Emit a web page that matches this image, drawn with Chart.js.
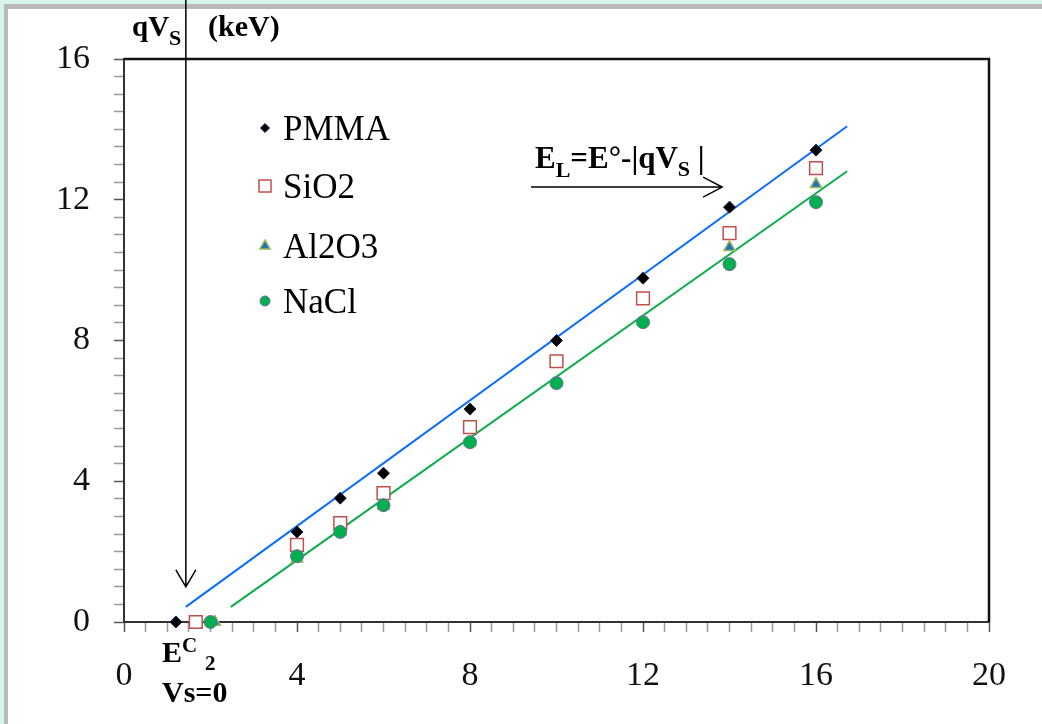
<!DOCTYPE html>
<html>
<head>
<meta charset="utf-8">
<script src="https://cdn.jsdelivr.net/npm/chart.js@4.4.1/dist/chart.umd.min.js"></script>
<style>
    html, body { margin: 0; padding: 0; background: #fff; }
    #marco { width: 1042px; height: 724px; }
</style>
</head>
<body>
<div id="marco"><canvas id="grafica" width="1042" height="724"></canvas></div>
<script>
// Datos (energía en keV)
const nombres = ['PMMA', 'SiO2', 'Al2O3', 'NaCl'];

const xPMMA  = [1.2, 4, 5, 6, 8, 10, 12, 14, 16];
const yPMMA  = [0, 2.56, 3.52, 4.23, 6.05, 8.0, 9.77, 11.79, 13.41];

const xSiO2  = [1.66, 4, 5, 6, 8, 10, 12, 14, 16];
const ySiO2  = [0, 2.19, 2.81, 3.66, 5.54, 7.41, 9.2, 11.05, 12.9];

const xAl2O3 = [2.1, 4, 5, 6, 8, 10, 12, 14, 16];
const yAl2O3 = [0, 1.8, 2.56, 3.3, 5.1, 6.8, 8.55, 10.65, 12.44];

const xNaCl  = [2.0, 4, 5, 6, 8, 10, 12, 14, 16];
const yNaCl  = [0, 1.87, 2.56, 3.32, 5.11, 6.79, 8.52, 10.17, 11.93];

// Rectas de ajuste (extremos)
const xRectaAzul  = [1.43, 16.72];
const yRectaAzul  = [0.43, 14.09];
const xRectaVerde = [2.47, 16.72];
const yRectaVerde = [0.43, 12.81];

// Ejes
const xMin = 0, xMax = 20, yMin = 0, yMax = 16;
const pasoMenor = 0.5, pasoMayor = 4;

// Flechas (en unidades de los ejes)
const flechaVertical = { x: 1.43, yPunta: 1.0 };
const flechaHorizontal = { y: 12.36, xDesde: 9.41, xHasta: 13.83 };

const fuenteSerif = '"Liberation Serif", "Times New Roman", serif';

function puntos(xs, ys) {
    return xs.map((x, i) => ({ x: x, y: ys[i] }));
}

const estilos = [
    { pointStyle: 'rectRot',  radius: 6,   fill: '#000000', borde: '#12224c', ancho: 1 },
    { pointStyle: 'rect',     radius: 9,   fill: '#ffffff', borde: '#c0504d', ancho: 1.5 },
    { pointStyle: 'triangle', radius: 6.5, fill: '#1f6fc0', borde: '#9bbb59', ancho: 1.5 },
    { pointStyle: 'circle',   radius: 6.5, fill: '#00b050', borde: '#7a6aa0', ancho: 1 }
];

const series = [puntos(xPMMA, yPMMA), puntos(xSiO2, ySiO2), puntos(xAl2O3, yAl2O3), puntos(xNaCl, yNaCl)];

const datasets = series.map((d, i) => ({
    label: nombres[i],
    data: d,
    pointStyle: estilos[i].pointStyle,
    pointRadius: estilos[i].radius,
    pointBackgroundColor: estilos[i].fill,
    pointBorderColor: estilos[i].borde,
    pointBorderWidth: estilos[i].ancho,
    showLine: false,
    clip: false,
    order: 4 - i
}));

datasets.push({
    label: 'ajuste1', data: puntos(xRectaAzul, yRectaAzul), showLine: true,
    borderColor: '#0a6cff', borderWidth: 2, pointRadius: 0, clip: false, order: 10
});
datasets.push({
    label: 'ajuste2', data: puntos(xRectaVerde, yRectaVerde), showLine: true,
    borderColor: '#0aad4a', borderWidth: 2, pointRadius: 0, clip: false, order: 10
});

// Texto con subíndices / superíndices
function textoCompuesto(ctx, x, y, partes) {
    let cx = x;
    partes.forEach(p => {
        ctx.font = 'bold ' + p.s + 'px ' + fuenteSerif;
        ctx.fillText(p.t, cx, y + (p.dy || 0));
        cx += ctx.measureText(p.t).width;
    });
}

function marcador(ctx, e, x, y, r) {
    ctx.save();
    ctx.fillStyle = e.fill;
    ctx.strokeStyle = e.borde;
    ctx.lineWidth = e.ancho;
    ctx.beginPath();
    if (e.pointStyle === 'rectRot') {
        ctx.moveTo(x - r, y); ctx.lineTo(x, y - r); ctx.lineTo(x + r, y); ctx.lineTo(x, y + r);
        ctx.closePath();
    } else if (e.pointStyle === 'rect') {
        ctx.rect(x - r, y - r, 2 * r, 2 * r);
    } else if (e.pointStyle === 'triangle') {
        ctx.moveTo(x, y - r); ctx.lineTo(x + r * 0.87, y + r * 0.5); ctx.lineTo(x - r * 0.87, y + r * 0.5);
        ctx.closePath();
    } else {
        ctx.arc(x, y, r, 0, Math.PI * 2);
    }
    ctx.fill();
    ctx.stroke();
    ctx.restore();
}

const decoracion = {
    id: 'decoracion',
    beforeDraw(chart) {
        const ctx = chart.ctx;
        const w = chart.width, h = chart.height;
        ctx.save();
        ctx.fillStyle = '#ffffff';
        ctx.fillRect(0, 0, w, h);
        ctx.fillStyle = '#d6f3ee';
        ctx.fillRect(0, 0, w, 4);
        ctx.fillRect(0, 0, 4, h);
        ctx.fillStyle = '#b9b9b9';
        ctx.fillRect(4, 4, w - 4, 5);
        ctx.fillRect(4, 4, 4, h - 4);
        ctx.restore();
    },
    beforeDatasetsDraw(chart) {
        const ctx = chart.ctx;
        const a = chart.chartArea;
        ctx.save();
        ctx.strokeStyle = '#111';
        ctx.lineWidth = 2.5;
        ctx.beginPath();
        ctx.moveTo(a.left, a.top);
        ctx.lineTo(a.right, a.top);
        ctx.lineTo(a.right, a.bottom);
        ctx.stroke();
        ctx.restore();
    },
    afterDraw(chart) {
        const ctx = chart.ctx;
        const sx = chart.scales.x, sy = chart.scales.y;
        ctx.save();
        ctx.fillStyle = '#000';
        ctx.strokeStyle = '#000';
        ctx.lineWidth = 1.5;

        // flecha vertical
        const vx = sx.getPixelForValue(flechaVertical.x);
        const vy = sy.getPixelForValue(flechaVertical.yPunta);
        ctx.beginPath();
        ctx.moveTo(vx, 0); ctx.lineTo(vx, vy);
        ctx.moveTo(vx - 10, vy - 17); ctx.lineTo(vx, vy); ctx.lineTo(vx + 10, vy - 17);
        ctx.stroke();

        // flecha horizontal
        const hy = sy.getPixelForValue(flechaHorizontal.y);
        const hx0 = sx.getPixelForValue(flechaHorizontal.xDesde);
        const hx1 = sx.getPixelForValue(flechaHorizontal.xHasta);
        ctx.beginPath();
        ctx.moveTo(hx0, hy); ctx.lineTo(hx1, hy);
        ctx.moveTo(hx1 - 19, hy - 10); ctx.lineTo(hx1, hy); ctx.lineTo(hx1 - 19, hy + 10);
        ctx.stroke();

        // textos
        ctx.textBaseline = 'alphabetic';
        ctx.textAlign = 'left';
        textoCompuesto(ctx, 132, 36, [{ t: 'qV', s: 29 }, { t: 'S', s: 22, dy: 9 }]);
        textoCompuesto(ctx, 208, 36, [{ t: '(keV)', s: 30 }]);
        textoCompuesto(ctx, 535, 168, [
            { t: 'E', s: 31 }, { t: 'L', s: 22, dy: 9 }, { t: '=E\u00b0-|qV', s: 31 },
            { t: 'S', s: 22, dy: 8 }, { t: ' |', s: 31 }
        ]);
        textoCompuesto(ctx, 162, 662, [{ t: 'E', s: 30 }, { t: 'C', s: 21, dy: -10 }]);
        textoCompuesto(ctx, 205, 670, [{ t: '2', s: 21 }]);
        textoCompuesto(ctx, 162, 702, [{ t: 'Vs=0', s: 30 }]);

        // leyenda
        const lx = 265, ly = [128, 186, 246, 301];
        const rl = [4.5, 6, 6, 5];
        nombres.forEach((n, i) => {
            marcador(ctx, estilos[i], lx, ly[i], rl[i]);
            ctx.fillStyle = '#000';
            ctx.font = '35px ' + fuenteSerif;
            ctx.fillText(n, 283, ly[i] + 12);
        });
        ctx.restore();
    }
};

function opcionesEje(min, max, pad) {
    return {
        type: 'linear',
        min: min,
        max: max,
        border: { display: true, color: '#333', width: 2 },
        grid: {
            drawOnChartArea: false,
            drawTicks: true,
            tickLength: 10,
            tickColor: c => (c.tick && c.tick.value % pasoMayor === 0 ? '#555' : '#999'),
            tickWidth: 1.5
        },
        ticks: {
            stepSize: pasoMenor,
            autoSkip: false,
            maxRotation: 0,
            padding: pad,
            color: '#111',
            font: { family: fuenteSerif, size: 34 },
            callback: v => (v % pasoMayor === 0 ? String(v) : '')
        }
    };
}

const ejeX = opcionesEje(xMin, xMax, 24);
ejeX.afterFit = s => { s.height = 102; };
const ejeY = opcionesEje(yMin, yMax, 24);
ejeY.afterFit = s => { s.width = 124; };

new Chart(document.getElementById('grafica'), {
    type: 'scatter',
    data: { datasets: datasets },
    options: {
        responsive: false,
        animation: false,
        layout: { padding: { top: 59, right: 53, left: 0, bottom: 0 } },
        plugins: {
            legend: { display: false },
            tooltip: { enabled: false }
        },
        scales: { x: ejeX, y: ejeY }
    },
    plugins: [decoracion]
});
</script>
</body>
</html>
